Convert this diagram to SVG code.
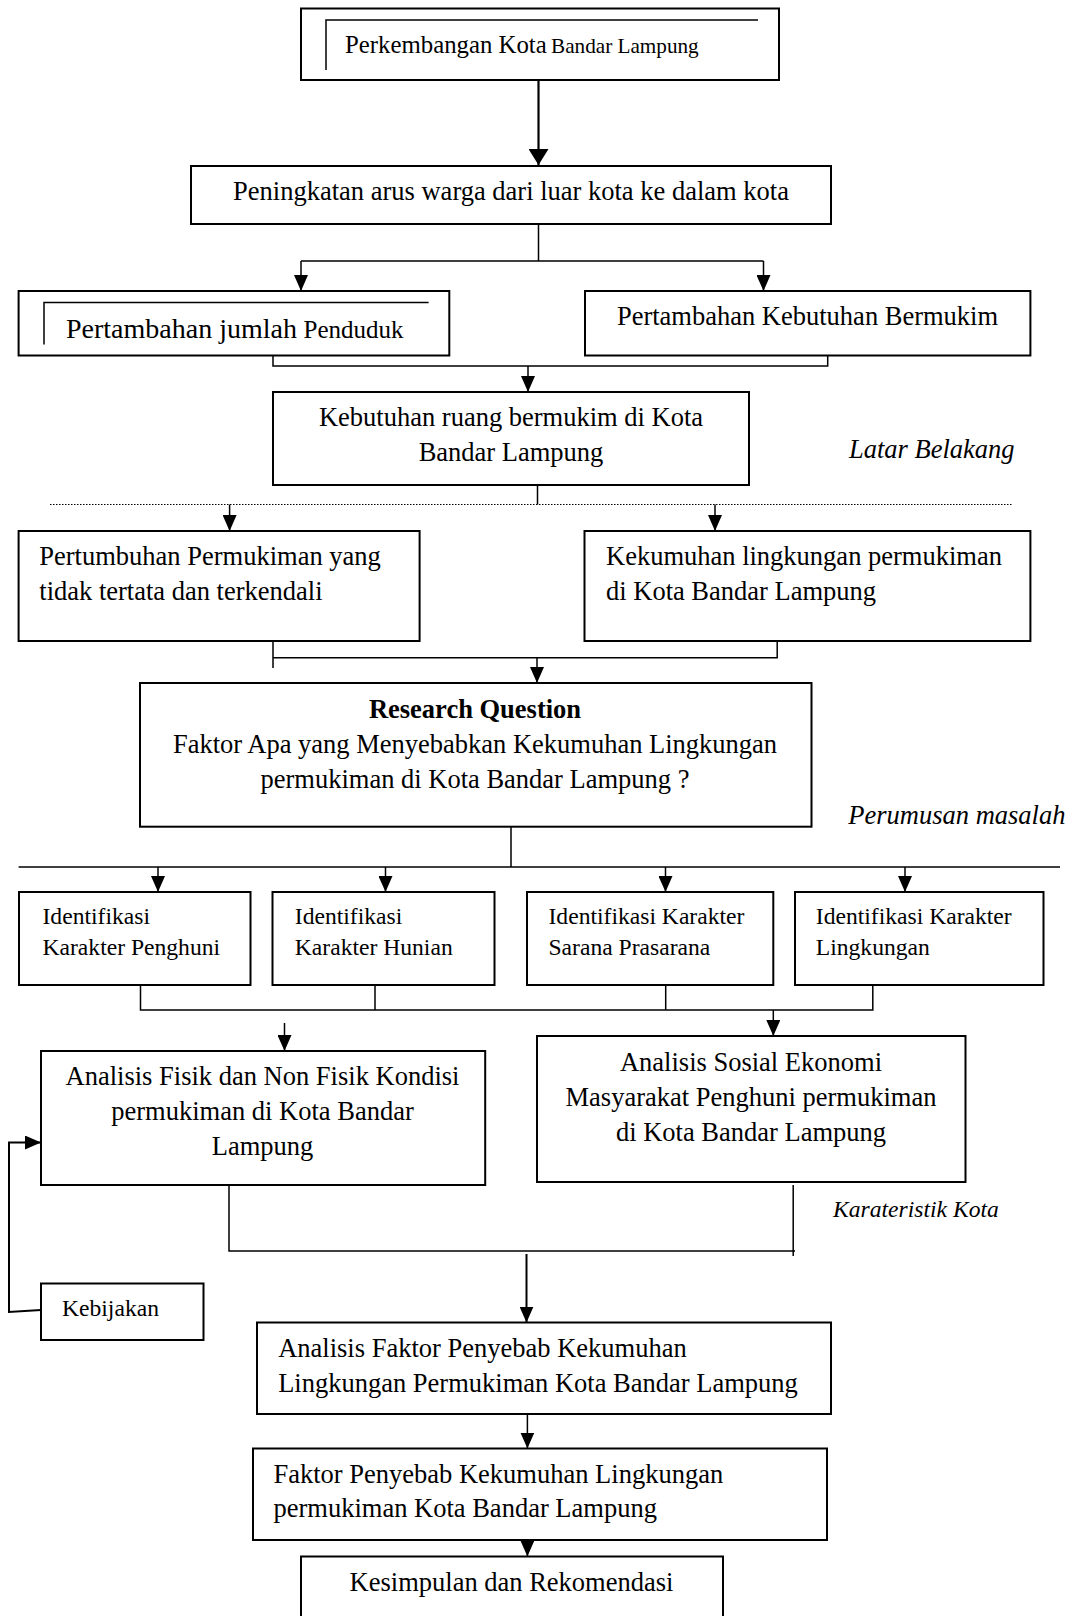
<svg xmlns="http://www.w3.org/2000/svg" width="1075" height="1616" viewBox="0 0 1075 1616" font-family="Liberation Serif, Times New Roman, Times, serif">
<defs>
<style>
.box{fill:#fff;stroke:#000;stroke-width:2}
.ln{fill:none;stroke:#000;stroke-width:1.5}
.t{font-family:'Liberation Serif','Times New Roman',Times,serif;font-size:26.5px;fill:#000}
.s{font-size:23.6px}
.c{text-anchor:middle}
.i{font-style:italic}
.b{font-weight:bold}
</style>
<marker id="ah" markerUnits="userSpaceOnUse" markerWidth="16" markerHeight="14" refX="16" refY="7" orient="auto"><path d="M0,0 L16,7 L0,14 z" fill="#000"/></marker>
<marker id="ahb" markerUnits="userSpaceOnUse" markerWidth="16" markerHeight="20" refX="16" refY="10" orient="auto"><path d="M0,0 L16,10 L0,20 z" fill="#000"/></marker>
</defs>
<rect width="1075" height="1616" fill="#fff"/>

<g id="connectors">
<line x1="538.5" y1="80" x2="538.5" y2="165" class="ln" style="stroke-width:2.2" marker-end="url(#ahb)"/>
<path d="M538.5,224 V261 M301,261 H763.5" class="ln"/>
<line x1="301" y1="261" x2="301" y2="291" class="ln" marker-end="url(#ah)"/>
<line x1="763.5" y1="261" x2="763.5" y2="291" class="ln" marker-end="url(#ah)"/>
<path d="M273,355.5 V366 H827.7 V355.5" class="ln"/>
<line x1="528" y1="366" x2="528" y2="392" class="ln" marker-end="url(#ah)"/>
<line x1="537.5" y1="485" x2="537.5" y2="504.5" class="ln"/>
<line x1="50" y1="504.5" x2="1012.7" y2="504.5" fill="none" stroke="#000" stroke-width="1" stroke-dasharray="1.5 1.5"/>
<line x1="229.6" y1="504.5" x2="229.6" y2="531" class="ln" marker-end="url(#ah)"/>
<line x1="715" y1="504.5" x2="715" y2="531" class="ln" marker-end="url(#ah)"/>
<path d="M273,641 V668 M273,657.7 H777.2 V641" class="ln"/>
<line x1="537" y1="657.7" x2="537" y2="683" class="ln" marker-end="url(#ah)"/>
<path d="M511,826.7 V867 M18.6,867 H1060" class="ln"/>
<line x1="158" y1="867" x2="158" y2="892" class="ln" marker-end="url(#ah)"/>
<line x1="385.5" y1="867" x2="385.5" y2="892" class="ln" marker-end="url(#ah)"/>
<line x1="665.5" y1="867" x2="665.5" y2="892" class="ln" marker-end="url(#ah)"/>
<line x1="905" y1="867" x2="905" y2="892" class="ln" marker-end="url(#ah)"/>
<path d="M140.5,985 V1010 H872.8 V985 M375,985 V1010 M665.7,985 V1010" class="ln"/>
<line x1="773.3" y1="1010" x2="773.3" y2="1036" class="ln" marker-end="url(#ah)"/>
<line x1="284.5" y1="1023" x2="284.5" y2="1051" class="ln" marker-end="url(#ah)"/>
<path d="M229,1185 V1251 H795 M793.2,1185 V1256" class="ln"/>
<line x1="526.5" y1="1254" x2="526.5" y2="1322.5" class="ln" style="stroke-width:2" marker-end="url(#ah)"/>
<polyline points="41,1310 9,1312 9,1142.5 41,1142.5" class="ln" style="stroke-width:2" marker-end="url(#ah)"/>
<line x1="527.4" y1="1414" x2="527.4" y2="1448.5" class="ln" marker-end="url(#ah)"/>
<line x1="527.4" y1="1540" x2="527.4" y2="1556.5" class="ln" marker-end="url(#ah)"/>
</g>

<g id="n1">
<rect x="301" y="8.5" width="478" height="71.5" class="box"/>
<polyline points="326,70 326,20 758,20" class="ln"/>
<text x="345" y="53" class="t" style="font-size:24.8px">Perkembangan Kota</text>
<text x="551" y="53" class="t" style="font-size:21.2px">Bandar Lampung</text>
</g>
<g id="n2">
<rect x="191" y="166" width="640" height="58" class="box"/>
<text x="511" y="200" class="t c">Peningkatan arus warga dari luar kota ke dalam kota</text>
</g>
<g id="n3">
<rect x="18.6" y="291" width="430.7" height="64.5" class="box"/>
<polyline points="44,344.5 44,302.5 428.6,302.5" class="ln"/>
<text x="66" y="338" class="t" style="font-size:28px">Pertambahan jumlah</text>
<text x="303.6" y="338" class="t" style="font-size:25px">Penduduk</text>
</g>
<g id="n4">
<rect x="585" y="291" width="445.4" height="64.5" class="box"/>
<text x="807.5" y="325" class="t c">Pertambahan Kebutuhan Bermukim</text>
</g>
<g id="n5">
<rect x="273" y="392" width="476" height="93" class="box"/>
<text x="511" y="426" class="t c">Kebutuhan ruang bermukim di Kota</text>
<text x="511" y="461" class="t c">Bandar Lampung</text>
</g>
<text x="849" y="457.5" class="t i">Latar Belakang</text>
<g id="n6">
<rect x="18.6" y="531" width="401" height="110" class="box"/>
<text x="39.3" y="565" class="t">Pertumbuhan Permukiman yang</text>
<text x="39.3" y="600" class="t">tidak tertata dan terkendali</text>
</g>
<g id="n7">
<rect x="584.5" y="531" width="445.9" height="110" class="box"/>
<text x="606" y="565" class="t">Kekumuhan lingkungan permukiman</text>
<text x="606" y="600" class="t">di Kota Bandar Lampung</text>
</g>
<g id="n8">
<rect x="140" y="683" width="671.5" height="143.7" class="box"/>
<text x="475" y="717.5" class="t c b">Research Question</text>
<text x="475" y="753" class="t c">Faktor Apa yang Menyebabkan Kekumuhan Lingkungan</text>
<text x="475" y="788" class="t c">permukiman di Kota Bandar Lampung ?</text>
</g>
<text x="848.3" y="824" class="t i">Perumusan masalah</text>
<g id="n9">
<rect x="19" y="892" width="231.5" height="93" class="box"/>
<text x="42.5" y="924" class="t s">Identifikasi</text>
<text x="42.5" y="955" class="t s">Karakter Penghuni</text>
</g>
<g id="n10">
<rect x="272.5" y="892" width="222" height="93" class="box"/>
<text x="294.8" y="924" class="t s">Identifikasi</text>
<text x="294.8" y="955" class="t s">Karakter Hunian</text>
</g>
<g id="n11">
<rect x="527" y="892" width="246.3" height="93" class="box"/>
<text x="548.5" y="924" class="t s">Identifikasi Karakter</text>
<text x="548.5" y="955" class="t s">Sarana Prasarana</text>
</g>
<g id="n12">
<rect x="795" y="892" width="248.5" height="93" class="box"/>
<text x="815.8" y="924" class="t s">Identifikasi Karakter</text>
<text x="815.8" y="955" class="t s">Lingkungan</text>
</g>
<g id="n13">
<rect x="41" y="1051" width="444.2" height="134" class="box"/>
<text x="262.5" y="1085" class="t c">Analisis Fisik dan Non Fisik Kondisi</text>
<text x="262.5" y="1120" class="t c">permukiman di Kota Bandar</text>
<text x="262.5" y="1155" class="t c">Lampung</text>
</g>
<g id="n14">
<rect x="537" y="1036" width="428.5" height="146" class="box"/>
<text x="751" y="1070.5" class="t c">Analisis Sosial Ekonomi</text>
<text x="751" y="1105.5" class="t c">Masyarakat Penghuni permukiman</text>
<text x="751" y="1140.5" class="t c">di Kota Bandar Lampung</text>
</g>
<text x="833" y="1216.5" class="t s i">Karateristik Kota</text>
<g id="n15">
<rect x="41" y="1283.5" width="162.5" height="56.5" class="box"/>
<text x="62" y="1315.5" class="t s">Kebijakan</text>
</g>
<g id="n16">
<rect x="257" y="1322.5" width="574" height="91.5" class="box"/>
<text x="278.2" y="1356.5" class="t">Analisis Faktor Penyebab Kekumuhan</text>
<text x="278.2" y="1391.5" class="t">Lingkungan Permukiman Kota Bandar Lampung</text>
</g>
<g id="n17">
<rect x="253" y="1448.5" width="574" height="91.5" class="box"/>
<text x="273.5" y="1482.5" class="t">Faktor Penyebab Kekumuhan Lingkungan</text>
<text x="273.5" y="1517" class="t">permukiman Kota Bandar Lampung</text>
</g>
<g id="n18">
<rect x="301" y="1556.5" width="422" height="80" class="box"/>
<text x="511.5" y="1590.5" class="t c">Kesimpulan dan Rekomendasi</text>
</g>
</svg>
